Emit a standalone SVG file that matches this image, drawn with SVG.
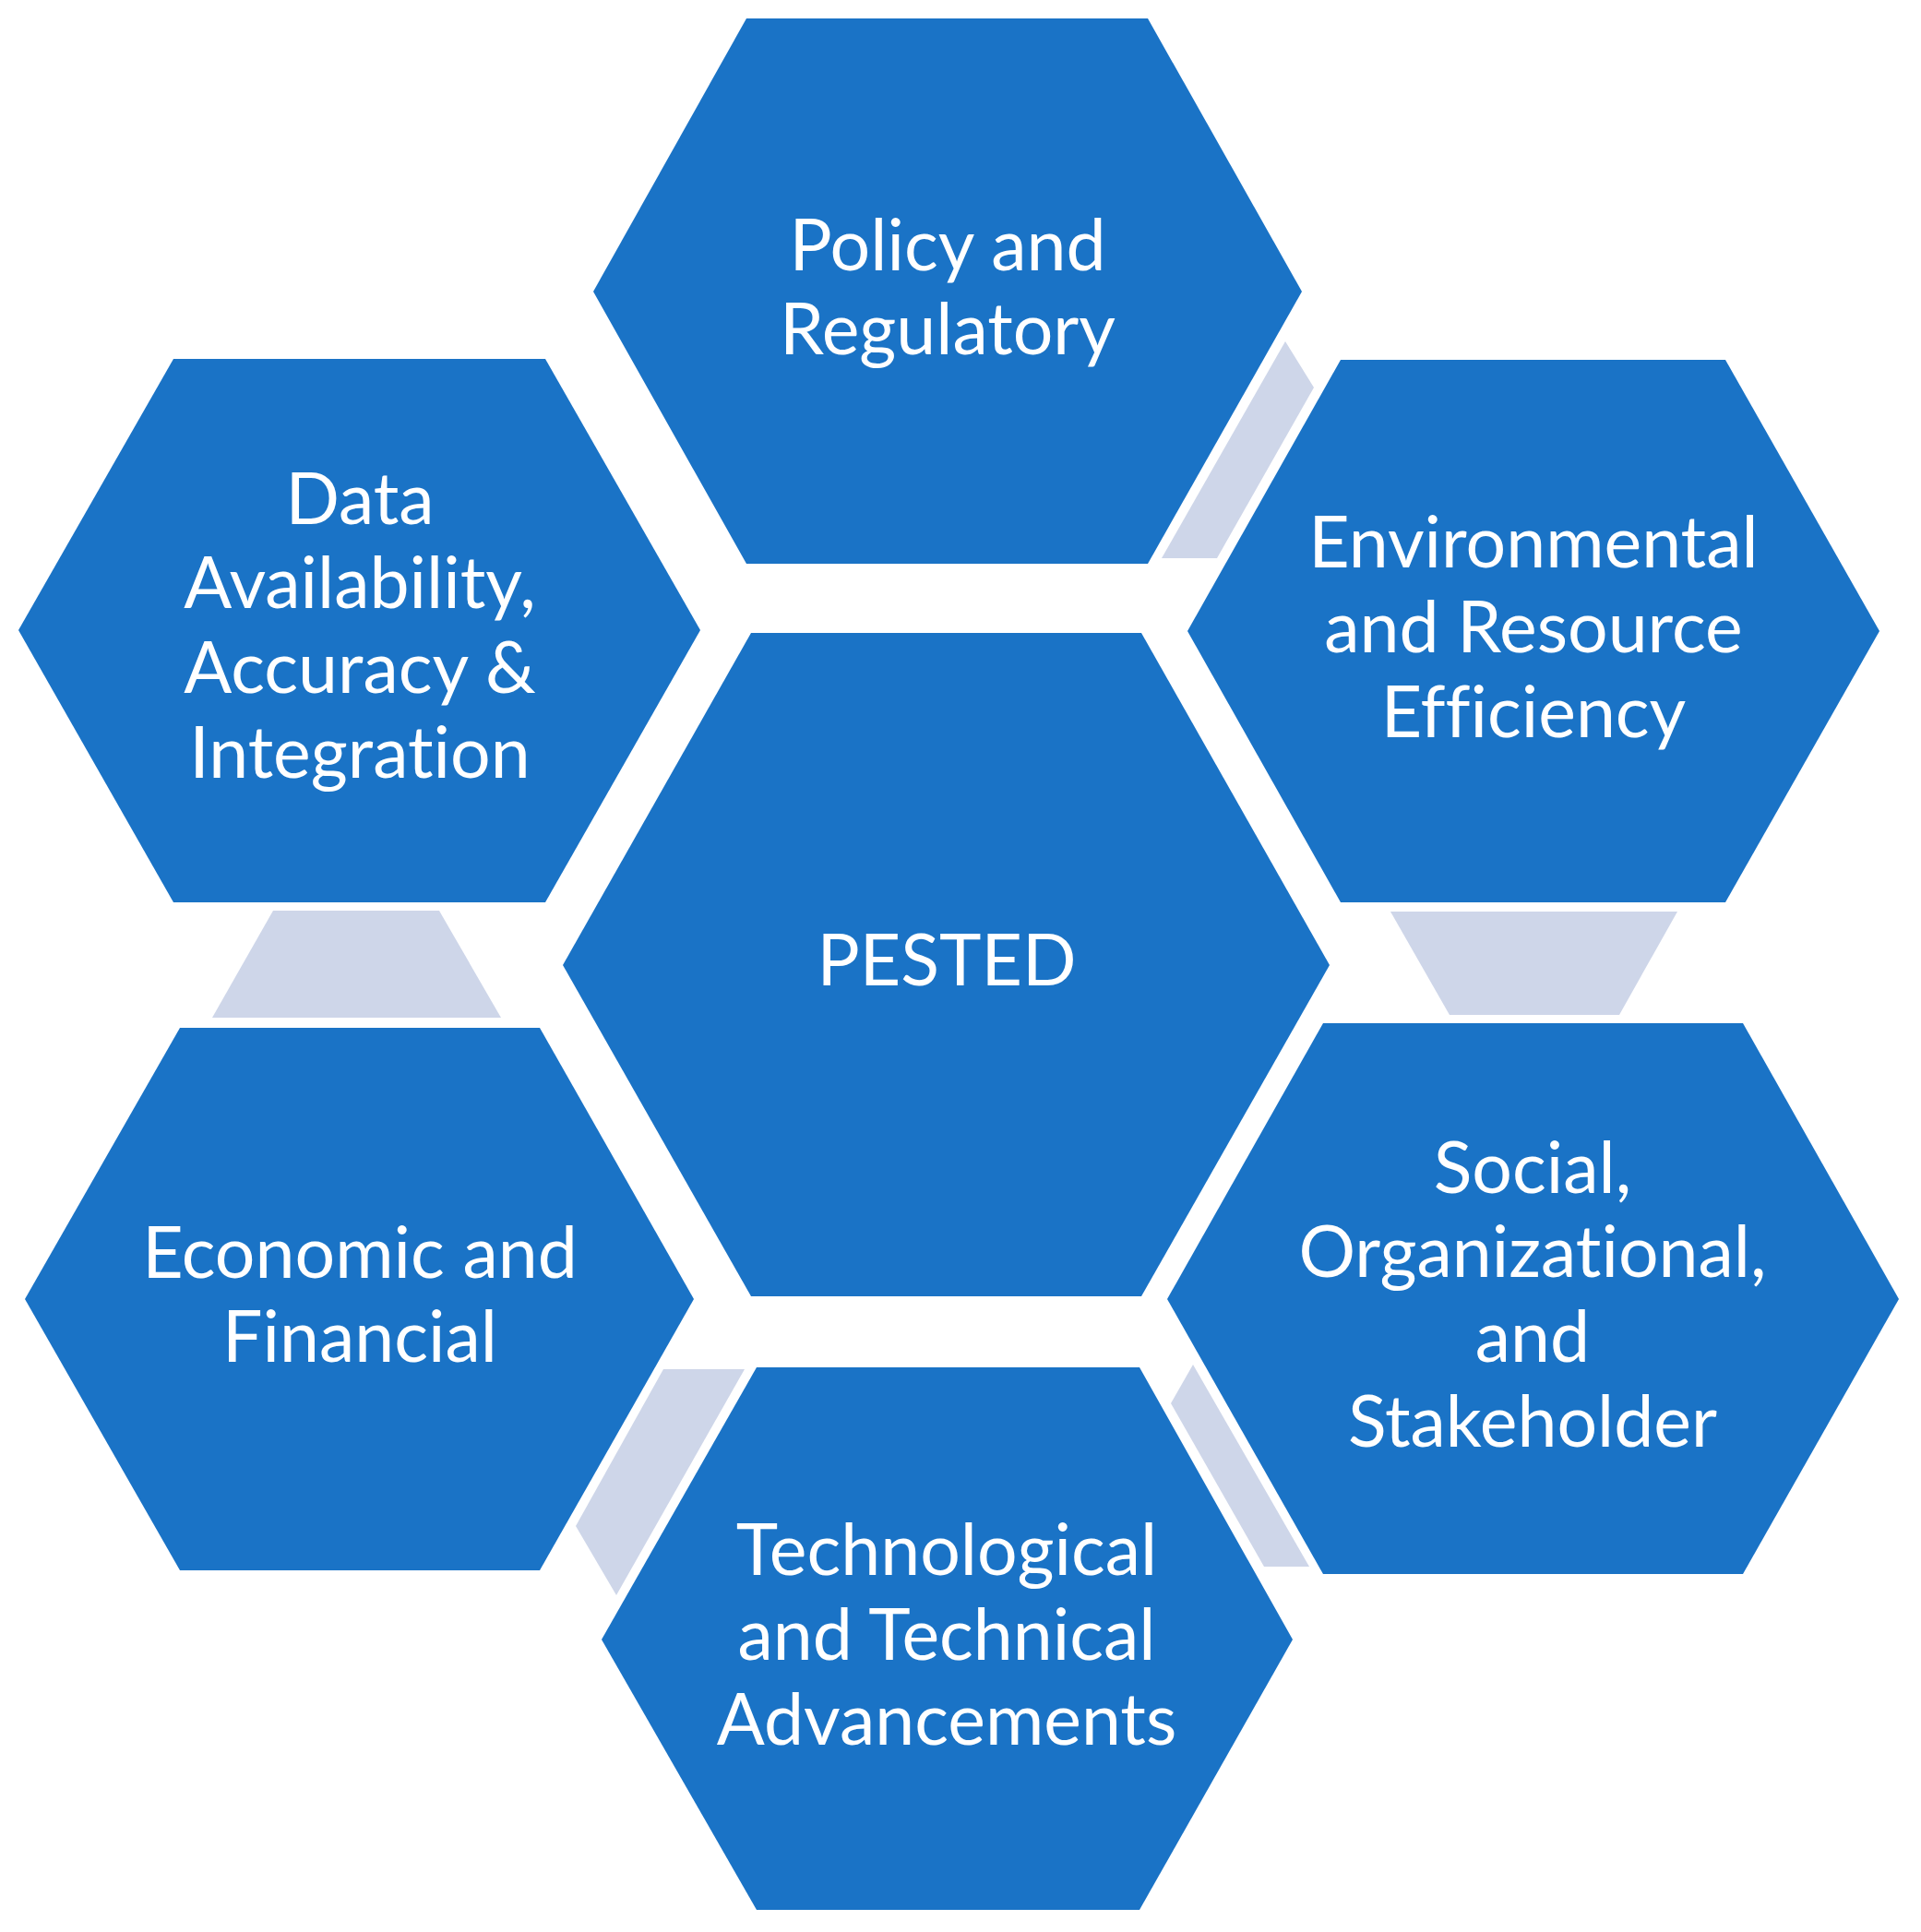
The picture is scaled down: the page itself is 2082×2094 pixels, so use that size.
<svg xmlns="http://www.w3.org/2000/svg" width="2082" height="2094" viewBox="0 0 2082 2094">
<style>
.hex{fill:#1A73C6}
.conn{fill:#CED6E9}
.lbl{font-family:Lato,"Liberation Sans",sans-serif;font-size:77px;fill:#FFFFFF;text-anchor:middle;font-variant-ligatures:none;font-feature-settings:"liga" 0,"clig" 0}
</style>
<rect width="2082" height="2094" fill="#FFFFFF"/>
<g id="connectors">
<polygon class="conn" points="1393,370 1424,420 1319,605 1259,605"/>
<polygon class="conn" points="1507,988 1818,988 1755,1100 1571,1100"/>
<polygon class="conn" points="1293,1479 1419,1698 1370,1698 1269,1521"/>
<polygon class="conn" points="719,1484 807,1484 668,1729 624,1654"/>
<polygon class="conn" points="296,987 476,987 543,1103 230,1103"/>
</g>
<g id="node-center">
<polygon class="hex" points="814,686 1237,686 1441,1046 1237,1405 814,1405 610,1046"/>
<text class="lbl" x="1026" y="1068">PESTED</text>
</g>
<g id="node-policy">
<polygon class="hex" points="809,20 1244,20 1411,316 1244,611 809,611 643,316"/>
<text class="lbl" x="1027" y="293">Policy and</text>
<text class="lbl" x="1027" y="384">Regulatory</text>
</g>
<g id="node-environmental">
<polygon class="hex" points="1453,390 1870,390 2037,684 1870,978 1453,978 1287,684"/>
<text class="lbl" x="1662" y="615">Environmental</text>
<text class="lbl" x="1662" y="707">and Resource</text>
<text class="lbl" x="1662" y="799">Efficiency</text>
</g>
<g id="node-social">
<polygon class="hex" points="1434,1109 1889,1109 2058,1408 1889,1706 1434,1706 1265,1408"/>
<text class="lbl" x="1661" y="1293">Social,</text>
<text class="lbl" x="1661" y="1384">Organizational,</text>
<text class="lbl" x="1661" y="1476">and</text>
<text class="lbl" x="1661" y="1568">Stakeholder</text>
</g>
<g id="node-technological">
<polygon class="hex" points="820,1482 1235,1482 1401,1777 1235,2070 820,2070 652,1777"/>
<text class="lbl" x="1026" y="1707">Technological</text>
<text class="lbl" x="1026" y="1799">and Technical</text>
<text class="lbl" x="1026" y="1891">Advancements</text>
</g>
<g id="node-economic">
<polygon class="hex" points="195,1114 585,1114 752,1408 585,1702 195,1702 27,1408"/>
<text class="lbl" x="390" y="1385">Economic and</text>
<text class="lbl" x="390" y="1476">Financial</text>
</g>
<g id="node-data">
<polygon class="hex" points="188,389 591,389 759,683 591,978 188,978 20,683"/>
<text class="lbl" x="390" y="568">Data</text>
<text class="lbl" x="390" y="659">Availability,</text>
<text class="lbl" x="390" y="751">Accuracy &amp;</text>
<text class="lbl" x="390" y="843">Integration</text>
</g>
</svg>
